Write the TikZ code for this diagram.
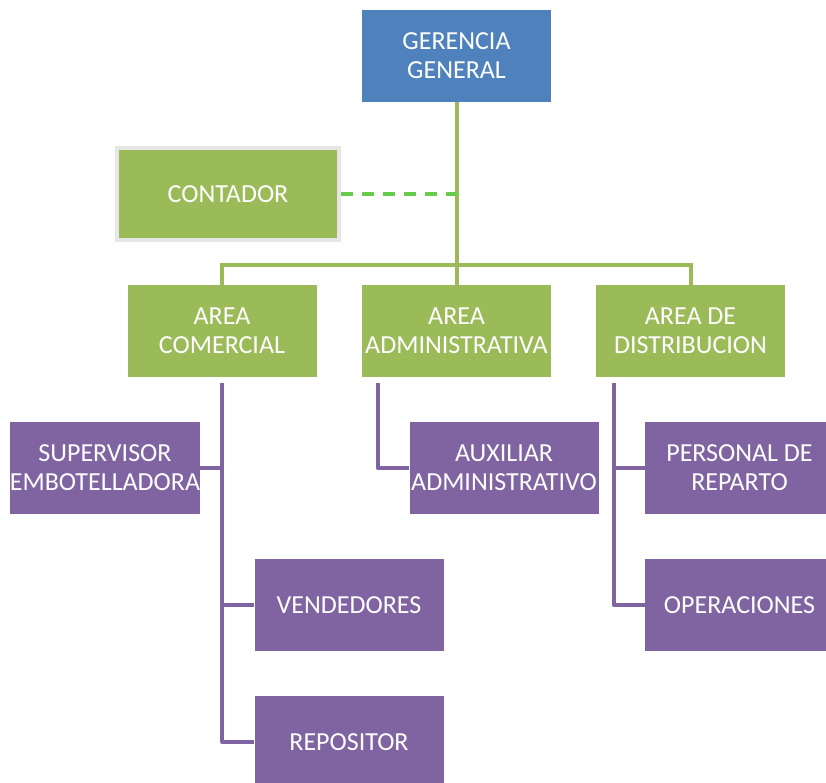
\documentclass[tikz,border=0pt]{standalone}
\usepackage{fontspec}
\setmainfont{Carlito}
\definecolor{cblue}{HTML}{4F81BD}
\definecolor{cgreen}{HTML}{9BBB59}
\definecolor{cpurple}{HTML}{8064A2}
\definecolor{cdash}{HTML}{66CC4D}
\definecolor{cgray}{HTML}{E6E6E6}
\tikzset{
  box/.style={rectangle, minimum width=189pt, minimum height=92pt, inner sep=0pt,
    text=white, align=center, font=\fontsize{26}{29}\selectfont},
  bluebox/.style={box, fill=cblue},
  greenbox/.style={box, fill=cgreen},
  purplebox/.style={box, fill=cpurple},
  gline/.style={draw=cgreen, line width=4pt},
  pline/.style={draw=cpurple, line width=4pt, line join=round},
  dline/.style={draw=cdash, line width=4pt, dash pattern=on 12pt off 9pt},
}
\begin{document}
\begin{tikzpicture}[x=1pt,y=-1pt]
\useasboundingbox (0,0) rectangle (826,782);
\clip (0,0) rectangle (826,782);
% nodes
\node[bluebox] (ger) at (456.5,56) {GERENCIA\\GENERAL};
\node[greenbox, minimum width=222pt, minimum height=92pt, draw=cgray, line width=4pt] (cont) at (228,194) {CONTADOR};
\node[greenbox] (com) at (222,331) {AREA\\COMERCIAL};
\node[greenbox] (adm) at (456.5,331) {AREA\\ADMINISTRATIVA};
\node[greenbox] (dist) at (690.5,331) {AREA DE\\DISTRIBUCION};
\node[purplebox] (sup) at (105,468) {SUPERVISOR\\EMBOTELLADORA};
\node[purplebox] (ven) at (349,605) {VENDEDORES};
\node[purplebox] (rep) at (349,742) {REPOSITOR};
\node[purplebox] (aux) at (504,468) {AUXILIAR\\ADMINISTRATIVO};
\node[purplebox] (rpt) at (739.5,468) {PERSONAL DE\\REPARTO};
\node[purplebox] (ope) at (739.5,605) {OPERACIONES};
% green tree
\coordinate (bar) at (456.5,265);
\draw[gline] (ger.south) -- (adm.north);
\draw[gline] (com.north) |- (bar) -| (dist.north);
\draw[dline] (cont.east) -- (cont.east -| ger.south);
% purple connectors
\coordinate (c0) at ([yshift=-6pt]com.south);
\coordinate (a0) at ([xshift=16pt,yshift=-6pt]adm.south west);
\coordinate (d0) at ([xshift=18pt,yshift=-6pt]dist.south west);
\draw[pline] (c0) |- (sup.east);
\draw[pline] (c0) |- (ven.west);
\draw[pline] (c0) |- (rep.west);
\draw[pline] (a0) |- (aux.west);
\draw[pline] (d0) |- (rpt.west);
\draw[pline] (d0) |- (ope.west);
\end{tikzpicture}
\end{document}
